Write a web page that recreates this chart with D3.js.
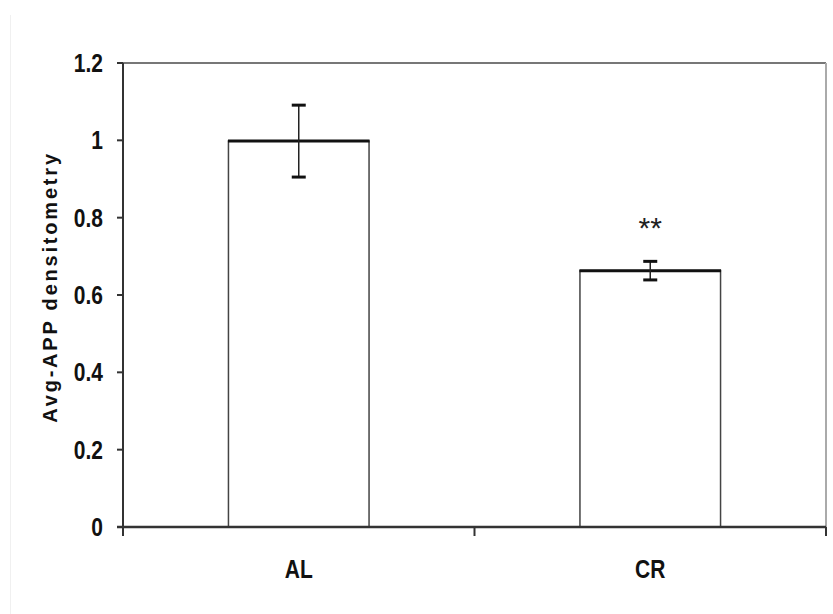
<!DOCTYPE html>
<html>
<head>
<meta charset="utf-8">
<script src="https://cdn.jsdelivr.net/npm/d3@7"></script>
<style>
  body { margin: 0; background: #fff; }
  svg { display: block; }
  .tick-lbl { font-family: "Liberation Sans", Arial, sans-serif; font-weight: bold; font-size: 25px; fill: #111; }
  .y-title { font-family: "Liberation Sans", Arial, sans-serif; font-weight: bold; font-size: 20px; letter-spacing: 2.8px; fill: #111; }
</style>
</head>
<body>
<div class="chart"></div>
<script>
const groups = ["AL", "CR"]
const means = [0.998, 0.663]
const errors = [0.093, 0.024]
const yTicks = [0, 0.2, 0.4, 0.6, 0.8, 1, 1.2]
const yTickLabels = ["0", "0.2", "0.4", "0.6", "0.8", "1", "1.2"]
const marks = ["", "**"]

const width = 833, height = 614
const margin = { top: 63, right: 7, bottom: 87, left: 123 }
const narrow = 0.84   // labels in the original use a condensed face

const svg = d3.select(".chart").append("svg")
    .attr("width", width)
    .attr("height", height)

// faint frame edge on the left of the original figure
svg.append("line")
    .attr("x1", 10.5).attr("x2", 10.5)
    .attr("y1", 15).attr("y2", height)
    .attr("stroke", "#f0f0f0")

const x = d3.scaleBand()
    .domain(groups)
    .range([margin.left, width - margin.right])
    .paddingInner(0)

const y = d3.scaleLinear()
    .domain([0, 1.2])
    .range([height - margin.bottom, margin.top])

const barW = x.bandwidth() * 0.4

// plot border (top + right)
svg.append("line")
    .attr("x1", margin.left).attr("x2", width - margin.right)
    .attr("y1", y(1.2)).attr("y2", y(1.2))
    .attr("stroke", "#777").attr("stroke-width", 2)
svg.append("line")
    .attr("x1", width - margin.right).attr("x2", width - margin.right)
    .attr("y1", y(1.2)).attr("y2", y(0))
    .attr("stroke", "#aaa").attr("stroke-width", 2)

// bars
const bar = svg.append("g")
    .selectAll("g")
    .data(groups)
    .join("g")

bar.append("rect")
    .attr("x", d => x(d) + (x.bandwidth() - barW) / 2)
    .attr("y", (d, i) => y(means[i]))
    .attr("width", barW)
    .attr("height", (d, i) => y(0) - y(means[i]))
    .attr("fill", "#fff")
    .attr("stroke", "#444")
    .attr("stroke-width", 1.5)

bar.append("line")
    .attr("x1", d => x(d) + (x.bandwidth() - barW) / 2 - 0.5)
    .attr("x2", d => x(d) + (x.bandwidth() + barW) / 2 + 0.5)
    .attr("y1", (d, i) => y(means[i]))
    .attr("y2", (d, i) => y(means[i]))
    .attr("stroke", "#111")
    .attr("stroke-width", 3)

// error bars
const cx = d => x(d) + x.bandwidth() / 2
bar.append("line")
    .attr("x1", cx).attr("x2", cx)
    .attr("y1", (d, i) => y(means[i] + errors[i]))
    .attr("y2", (d, i) => y(means[i] - errors[i]))
    .attr("stroke", "#222")
    .attr("stroke-width", 1.5)

bar.selectAll(".cap")
    .data((d, i) => [means[i] + errors[i], means[i] - errors[i]].map(v => ({ g: d, v })))
    .join("line")
    .attr("class", "cap")
    .attr("x1", d => cx(d.g) - 7).attr("x2", d => cx(d.g) + 7)
    .attr("y1", d => y(d.v)).attr("y2", d => y(d.v))
    .attr("stroke", "#111")
    .attr("stroke-width", 3)

// significance marks
bar.append("text")
    .attr("x", cx)
    .attr("y", (d, i) => y(means[i] + errors[i]) - 23)
    .attr("text-anchor", "middle")
    .attr("font-family", "Liberation Sans, Arial, sans-serif")
    .attr("font-size", 30)
    .attr("fill", "#222")
    .text((d, i) => marks[i])

// y axis
const yAxis = svg.append("g")
    .attr("transform", `translate(${margin.left},0)`)
yAxis.append("line")
    .attr("y1", y(1.2)).attr("y2", y(0) + 9)
    .attr("stroke", "#333").attr("stroke-width", 2)
yAxis.selectAll(".yt")
    .data(yTicks)
    .join("line")
    .attr("class", "yt")
    .attr("x1", -6).attr("x2", 0)
    .attr("y1", d => y(d)).attr("y2", d => y(d))
    .attr("stroke", "#333").attr("stroke-width", 2)
yAxis.selectAll(".yl")
    .data(yTicks)
    .join("text")
    .attr("class", "tick-lbl yl")
    .attr("transform", d => `translate(-20,${y(d)}) scale(${narrow},1)`)
    .attr("dy", "0.36em")
    .attr("text-anchor", "end")
    .text((d, i) => yTickLabels[i])

// x axis
const xAxis = svg.append("g")
    .attr("transform", `translate(0,${y(0)})`)
xAxis.append("line")
    .attr("x1", margin.left - 6).attr("x2", width - margin.right)
    .attr("stroke", "#333").attr("stroke-width", 2.5)
xAxis.selectAll(".xt")
    .data([...groups.map(d => x(d)), width - margin.right])
    .join("line")
    .attr("class", "xt")
    .attr("x1", d => d).attr("x2", d => d)
    .attr("y1", 0).attr("y2", 9)
    .attr("stroke", "#333").attr("stroke-width", 2)
xAxis.selectAll(".xl")
    .data(groups)
    .join("text")
    .attr("class", "tick-lbl xl")
    .attr("transform", d => `translate(${cx(d)},51) scale(${narrow},1)`)
    .attr("text-anchor", "middle")
    .text(d => d)

// y title
svg.append("text")
    .attr("class", "y-title")
    .attr("transform", `translate(57,287) rotate(-90)`)
    .attr("text-anchor", "middle")
    .text("Avg-APP densitometry")
</script>
</body>
</html>
